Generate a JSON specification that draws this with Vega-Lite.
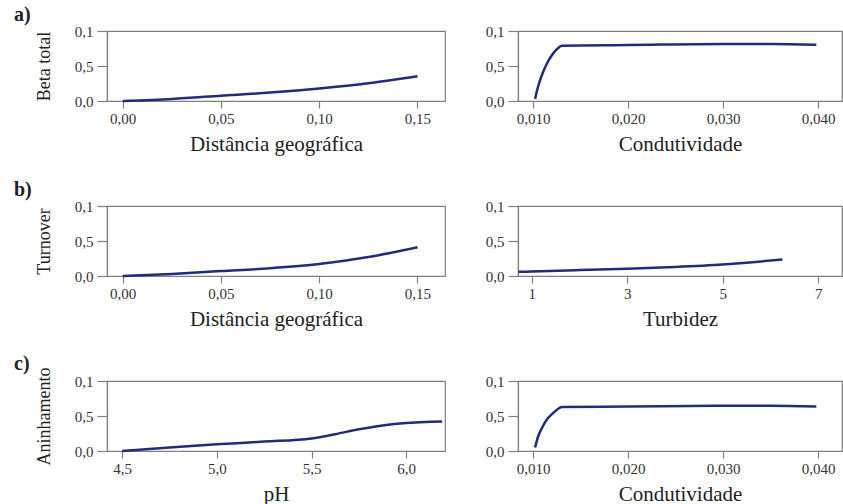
{
  "$schema": "https://vega.github.io/schema/vega-lite/v6.json",
  "padding": {"left": 13, "top": 4, "right": 0, "bottom": 0},
  "background": "white",
  "columns": 2,
  "spacing": {"row": 105, "column": 73},
  "bounds": "flush",
  "datasets": {
    "a1": [{"x": 0, "y": 0}, {"x": 0.025, "y": 0.03}, {"x": 0.05, "y": 0.075}, {"x": 0.075, "y": 0.12}, {"x": 0.1, "y": 0.18}, {"x": 0.125, "y": 0.255}, {"x": 0.15, "y": 0.355}],
    "a2": [{"x": 0.0102, "y": 0.03}, {"x": 0.0105, "y": 0.2}, {"x": 0.011, "y": 0.4}, {"x": 0.0115, "y": 0.55}, {"x": 0.012, "y": 0.66}, {"x": 0.0125, "y": 0.74}, {"x": 0.013, "y": 0.79}, {"x": 0.02, "y": 0.8}, {"x": 0.03, "y": 0.815}, {"x": 0.035, "y": 0.815}, {"x": 0.0398, "y": 0.805}],
    "b1": [{"x": 0, "y": 0}, {"x": 0.025, "y": 0.03}, {"x": 0.05, "y": 0.07}, {"x": 0.075, "y": 0.11}, {"x": 0.1, "y": 0.17}, {"x": 0.125, "y": 0.27}, {"x": 0.15, "y": 0.41}],
    "b2": [{"x": 0.72, "y": 0.06}, {"x": 1, "y": 0.065}, {"x": 2, "y": 0.085}, {"x": 3, "y": 0.105}, {"x": 4, "y": 0.13}, {"x": 5, "y": 0.165}, {"x": 5.5, "y": 0.19}, {"x": 6.25, "y": 0.235}],
    "c1": [{"x": 4.5, "y": 0}, {"x": 4.75, "y": 0.05}, {"x": 5.0, "y": 0.095}, {"x": 5.25, "y": 0.135}, {"x": 5.5, "y": 0.18}, {"x": 5.625, "y": 0.24}, {"x": 5.75, "y": 0.31}, {"x": 5.875, "y": 0.365}, {"x": 6.0, "y": 0.4}, {"x": 6.1, "y": 0.415}, {"x": 6.19, "y": 0.42}],
    "c2": [{"x": 0.0102, "y": 0.05}, {"x": 0.0105, "y": 0.2}, {"x": 0.011, "y": 0.35}, {"x": 0.0115, "y": 0.46}, {"x": 0.012, "y": 0.53}, {"x": 0.0125, "y": 0.59}, {"x": 0.013, "y": 0.63}, {"x": 0.02, "y": 0.635}, {"x": 0.03, "y": 0.645}, {"x": 0.035, "y": 0.645}, {"x": 0.0398, "y": 0.635}]
  },
  "config": {
    "view": {"stroke": "#808080", "strokeWidth": 1.2},
    "axis": {"labelFont": "Liberation Serif", "titleFont": "Liberation Serif", "labelFontSize": 15, "titleFontSize": 21, "titleFontWeight": "normal", "domainColor": "#808080", "tickColor": "#808080", "domainWidth": 1.2, "tickWidth": 1.2, "labelColor": "#333333", "titleColor": "#222222", "grid": false, "tickSize": 7, "labelPadding": 3},
    "axisY": {"titleFontSize": 18, "titlePadding": 21, "tickSize": 10, "labelPadding": 4},
    "axisX": {"titlePadding": 7},
    "title": {"font": "Liberation Serif", "fontSize": 20, "fontWeight": "bold", "anchor": "start", "color": "#222222", "frame": "group"},
    "line": {"color": "#1f2d7a", "strokeWidth": 2.5, "interpolate": "monotone"}
  },
  "concat": [
    {
      "width": 338, "height": 70,
      "title": {"text": "a)", "dx": -93, "offset": -1},
      "data": {"name": "a1"},
      "mark": "line",
      "encoding": {
        "x": {"field": "x", "type": "quantitative", "scale": {"domain": [-0.008, 0.164], "nice": false, "zero": false}, "axis": {"title": "Distância geográfica", "values": [0, 0.05, 0.1, 0.15], "labelExpr": "replace(format(datum.value,'.2f'),'.',',')"}},
        "y": {"field": "y", "type": "quantitative", "scale": {"domain": [0, 1], "nice": false}, "axis": {"title": "Beta total", "values": [0, 0.5, 1], "labelExpr": "datum.value == 1 ? '0,1' : datum.value == 0.5 ? '0,5' : '0,0'"}}
      }
    },
    {
      "width": 324, "height": 70,
      "data": {"name": "a2"},
      "mark": "line",
      "encoding": {
        "x": {"field": "x", "type": "quantitative", "scale": {"domain": [0.0084, 0.0425], "nice": false, "zero": false}, "axis": {"title": "Condutividade", "values": [0.01, 0.02, 0.03, 0.04], "labelExpr": "replace(format(datum.value,'.3f'),'.',',')"}},
        "y": {"field": "y", "type": "quantitative", "scale": {"domain": [0, 1], "nice": false}, "axis": {"title": null, "values": [0, 0.5, 1], "labelExpr": "datum.value == 1 ? '0,1' : datum.value == 0.5 ? '0,5' : '0,0'"}}
      }
    },
    {
      "width": 338, "height": 70,
      "title": {"text": "b)", "dx": -93, "offset": -1},
      "data": {"name": "b1"},
      "mark": "line",
      "encoding": {
        "x": {"field": "x", "type": "quantitative", "scale": {"domain": [-0.008, 0.164], "nice": false, "zero": false}, "axis": {"title": "Distância geográfica", "values": [0, 0.05, 0.1, 0.15], "labelExpr": "replace(format(datum.value,'.2f'),'.',',')"}},
        "y": {"field": "y", "type": "quantitative", "scale": {"domain": [0, 1], "nice": false}, "axis": {"title": "Turnover", "values": [0, 0.5, 1], "labelExpr": "datum.value == 1 ? '0,1' : datum.value == 0.5 ? '0,5' : '0,0'"}}
      }
    },
    {
      "width": 324, "height": 70,
      "data": {"name": "b2"},
      "mark": "line",
      "encoding": {
        "x": {"field": "x", "type": "quantitative", "scale": {"domain": [0.71, 7.5], "nice": false, "zero": false}, "axis": {"title": "Turbidez", "values": [1, 3, 5, 7], "format": "d"}},
        "y": {"field": "y", "type": "quantitative", "scale": {"domain": [0, 1], "nice": false}, "axis": {"title": null, "values": [0, 0.5, 1], "labelExpr": "datum.value == 1 ? '0,1' : datum.value == 0.5 ? '0,5' : '0,0'"}}
      }
    },
    {
      "width": 338, "height": 70,
      "title": {"text": "c)", "dx": -93, "offset": -7},
      "data": {"name": "c1"},
      "mark": "line",
      "encoding": {
        "x": {"field": "x", "type": "quantitative", "scale": {"domain": [4.42, 6.205], "nice": false, "zero": false}, "axis": {"title": "pH", "values": [4.5, 5, 5.5, 6], "labelExpr": "replace(format(datum.value,'.1f'),'.',',')"}},
        "y": {"field": "y", "type": "quantitative", "scale": {"domain": [0, 1], "nice": false}, "axis": {"title": "Aninhamento", "values": [0, 0.5, 1], "labelExpr": "datum.value == 1 ? '0,1' : datum.value == 0.5 ? '0,5' : '0,0'"}}
      }
    },
    {
      "width": 324, "height": 70,
      "data": {"name": "c2"},
      "mark": "line",
      "encoding": {
        "x": {"field": "x", "type": "quantitative", "scale": {"domain": [0.0084, 0.0425], "nice": false, "zero": false}, "axis": {"title": "Condutividade", "values": [0.01, 0.02, 0.03, 0.04], "labelExpr": "replace(format(datum.value,'.3f'),'.',',')"}},
        "y": {"field": "y", "type": "quantitative", "scale": {"domain": [0, 1], "nice": false}, "axis": {"title": null, "values": [0, 0.5, 1], "labelExpr": "datum.value == 1 ? '0,1' : datum.value == 0.5 ? '0,5' : '0,0'"}}
      }
    }
  ]
}
